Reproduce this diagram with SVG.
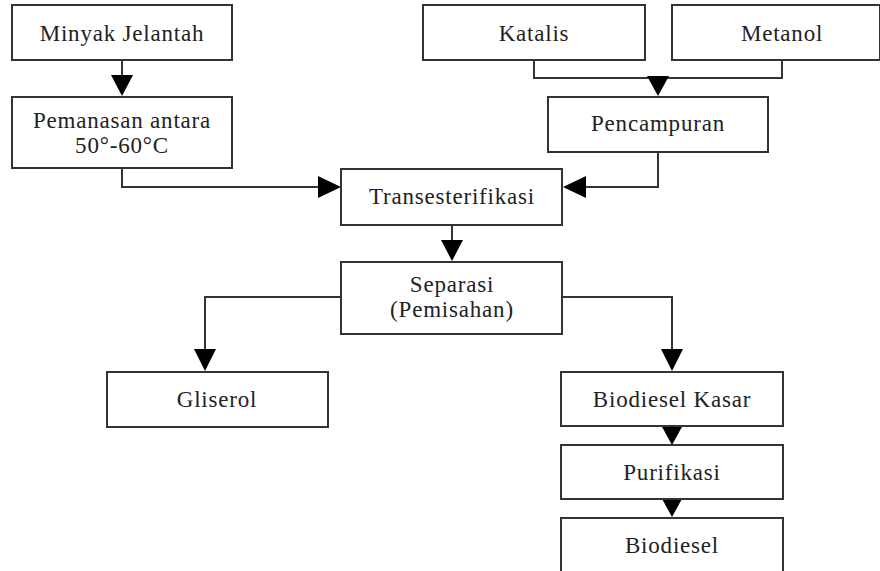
<svg xmlns="http://www.w3.org/2000/svg" width="880" height="571" viewBox="0 0 880 571">
<style>
.box{fill:#fff;stroke:#333;stroke-width:2}
.t{font-family:"Liberation Serif","Times New Roman",serif;font-size:23px;fill:#222;text-anchor:middle;letter-spacing:0.8px}
.ln{fill:none;stroke:#333;stroke-width:2}
.ah{fill:#000}
</style>
<rect width="880" height="571" fill="#fff"/>
<g id="connectors">
<path class="ln" d="M122,60 V78"/>
<polygon class="ah" points="111,75 133,75 122,96"/>
<path class="ln" d="M534,60 V78 H782 V60"/>
<path class="ln" d="M658,78 V80"/>
<polygon class="ah" points="647,76 669,76 658,96"/>
<path class="ln" d="M122,168 V187 H320"/>
<polygon class="ah" points="318,176 318,198 341,187"/>
<path class="ln" d="M658,152 V187 H584"/>
<polygon class="ah" points="586,176 586,198 563,187"/>
<path class="ln" d="M452,225 V242"/>
<polygon class="ah" points="441,240 463,240 452,261"/>
<path class="ln" d="M341,297 H205 V350"/>
<polygon class="ah" points="194,349 216,349 205,371"/>
<path class="ln" d="M562,297 H672 V350"/>
<polygon class="ah" points="661,349 683,349 672,371"/>
<polygon class="ah" points="661,425 683,425 672,445"/>
<polygon class="ah" points="661,497 683,497 672,517"/>
</g>
<g id="minyak"><rect class="box" x="12" y="5" width="220" height="55"/><text class="t" x="122" y="41">Minyak Jelantah</text></g>
<g id="pemanasan"><rect class="box" x="12" y="97" width="220" height="71"/><text class="t" x="122" y="128">Pemanasan antara</text><text class="t" x="122" y="153">50°-60°C</text></g>
<g id="katalis"><rect class="box" x="423" y="5" width="222" height="55"/><text class="t" x="534" y="41">Katalis</text></g>
<g id="metanol"><rect class="box" x="672" y="5" width="208" height="55"/><text class="t" x="782" y="41">Metanol</text></g>
<g id="pencampuran"><rect class="box" x="548" y="97" width="220" height="55"/><text class="t" x="658" y="131">Pencampuran</text></g>
<g id="trans"><rect class="box" x="341" y="169" width="221" height="56"/><text class="t" x="452" y="204">Transesterifikasi</text></g>
<g id="separasi"><rect class="box" x="341" y="262" width="221" height="72"/><text class="t" x="452" y="292">Separasi</text><text class="t" x="452" y="317">(Pemisahan)</text></g>
<g id="gliserol"><rect class="box" x="107" y="372" width="221" height="55"/><text class="t" x="217" y="407">Gliserol</text></g>
<g id="kasar"><rect class="box" x="561" y="372" width="222" height="54"/><text class="t" x="672" y="407">Biodiesel Kasar</text></g>
<g id="purifikasi"><rect class="box" x="561" y="445" width="222" height="54"/><text class="t" x="672" y="480">Purifikasi</text></g>
<g id="biodiesel"><rect class="box" x="561" y="518" width="222" height="60"/><text class="t" x="672" y="553">Biodiesel</text></g>
</svg>
